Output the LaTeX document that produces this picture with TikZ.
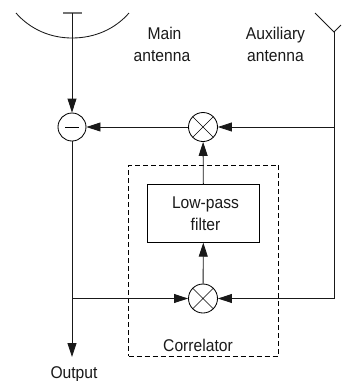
\documentclass[tikz,border=0pt]{standalone}
\usepackage{fontspec}
\setmainfont{Liberation Sans}
\usetikzlibrary{arrows.meta}
\newcommand{\nar}[1]{\scalebox{0.92}[1]{#1}}
\tikzset{
  line/.style={line width=0.85pt,black!90},
  arr/.style={line,-{Triangle[length=14pt,width=9pt]}},
  lbl/.style={inner sep=0pt,font=\fontsize{17}{22}\selectfont,align=center,text=black!90},
  sumnode/.style={circle,draw,line width=0.85pt,minimum size=28pt,inner sep=0pt},
  mixnode/.style={sumnode,minimum size=29pt,path picture={
    \draw[line width=0.7pt] (path picture bounding box.north west)--(path picture bounding box.south east)
      (path picture bounding box.north east)--(path picture bounding box.south west);}}
}
\begin{document}
\begin{tikzpicture}[x=1pt,y=-1pt]
\useasboundingbox (0,0) rectangle (341,381);
% corners and junctions
\coordinate (bar) at (72,13);
\coordinate (barL) at (63,13);
\coordinate (barR) at (82,13);
\coordinate (dishL) at (16,13);
\coordinate (dishM) at (72,38);
\coordinate (dishR) at (129,13);
\coordinate (auxL) at (315,13);
\coordinate (auxBase) at (334,32);
\coordinate (auxR) at (341,25);
\coordinate (auxTap) at (334,127);
\coordinate (auxCorner) at (334,298.5);
\coordinate (outTap) at (72,298.5);
\coordinate (outEnd) at (72,357);
% nodes
\node[sumnode] (sub) at (72,127) {};
\draw[line width=0.85pt] (65,127)--(79,127);
\node[mixnode] (topmix) at (203,127) {};
\node[mixnode] (botmix) at (203,298.5) {};
\node[draw,line width=0.85pt,minimum width=112.5pt,minimum height=57.5pt,inner sep=0pt] (lpf) at (203.5,213.5) {};
\node[lbl] (lpftext) at (205.5,214) {\nar{Low-pass}\\\nar{filter}\hspace{12pt}};
\node[draw,dashed,line width=0.85pt,minimum width=150pt,minimum height=191pt,inner sep=0pt,dash pattern=on 5pt off 3pt] (corr) at (203.5,260.5) {};
\node[lbl] (mainlbl) at (162,44.5) {\hspace{5pt}\nar{Main}\\\nar{antenna}};
\node[lbl] (auxlbl) at (275.5,44.5) {\nar{Auxiliary}\\\nar{antenna}};
\node[lbl] (corrlbl) at (198,345) {\nar{Correlator}};
\node[lbl] (outlbl) at (74,374) {\nar{Output}};
% antennas
\draw[line] (dishL) .. controls (30,29) and (50,38) .. (dishM) .. controls (95,38) and (115,29) .. (dishR);
\draw[line width=1.2pt,black!55] (barL)--(barR);
\draw[line] (auxL)--(auxBase)--(auxR);
% connectors
\draw[arr] (bar)--(sub);
\draw[arr] (sub)--(outEnd);
\draw[arr] (auxTap)--(topmix);
\draw[arr] (topmix)--(sub);
\draw[line] (auxBase)--(auxCorner);
\draw[arr] (auxCorner)--(botmix);
\draw[arr] (outTap)--(botmix);
\draw[arr] (botmix)--(lpf);
\draw[arr] (lpf)--(topmix);
\end{tikzpicture}
\end{document}
